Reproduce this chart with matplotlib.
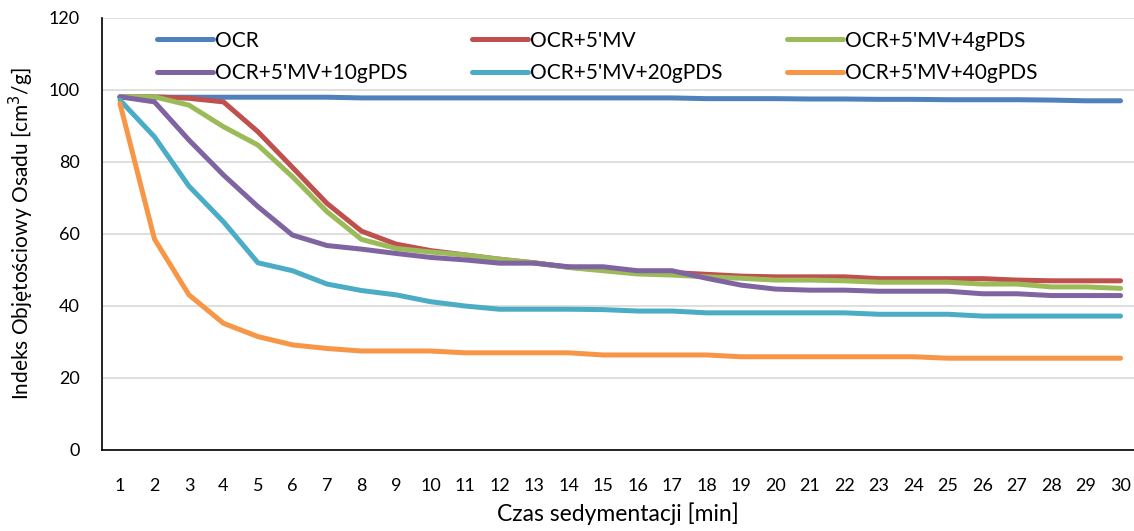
import matplotlib
matplotlib.use("Agg")
import matplotlib.pyplot as plt

plt.rcParams['font.family'] = ['Lato', 'DejaVu Sans']

time_min = list(range(1, 31))
ocr = [98.0, 98.0, 98.0, 98.0, 98.0, 98.0, 98.0, 97.8, 97.8, 97.8,
       97.8, 97.8, 97.8, 97.8, 97.8, 97.8, 97.8, 97.6, 97.6, 97.6,
       97.5, 97.5, 97.4, 97.4, 97.3, 97.3, 97.3, 97.2, 97.0, 97.0]
ocr_mv = [98.1, 98.1, 97.7, 96.7, 88.4, 78.5, 68.5, 60.8, 57.2, 55.4,
          54.2, 53.0, 52.0, 50.8, 50.0, 49.6, 49.3, 48.8, 48.3, 48.1,
          48.1, 48.1, 47.6, 47.6, 47.6, 47.6, 47.2, 47.0, 47.0, 47.0]
ocr_mv_4 = [98.1, 98.1, 95.8, 89.8, 84.7, 75.9, 66.2, 58.5, 56.0, 55.0,
            54.2, 53.0, 52.0, 50.7, 49.8, 48.9, 48.6, 48.1, 47.7, 47.2,
            47.2, 47.0, 46.6, 46.6, 46.6, 46.1, 46.1, 45.3, 45.3, 44.9]
ocr_mv_10 = [98.1, 96.7, 86.1, 76.4, 67.6, 59.7, 56.8, 55.8, 54.6, 53.5,
             52.8, 51.9, 51.9, 50.9, 50.9, 49.8, 49.8, 47.7, 45.8, 44.7,
             44.4, 44.4, 44.1, 44.1, 44.1, 43.4, 43.4, 42.9, 42.9, 42.9]
ocr_mv_20 = [97.2, 87.0, 73.3, 63.4, 52.0, 49.8, 46.1, 44.3, 43.1, 41.2,
             40.0, 39.1, 39.1, 39.1, 39.0, 38.6, 38.6, 38.1, 38.1, 38.1,
             38.1, 38.1, 37.7, 37.7, 37.7, 37.2, 37.2, 37.2, 37.2, 37.2]
ocr_mv_40 = [96.3, 58.6, 43.1, 35.2, 31.5, 29.2, 28.2, 27.5, 27.5, 27.5,
             27.0, 27.0, 27.0, 27.0, 26.4, 26.4, 26.4, 26.4, 25.9, 25.9,
             25.9, 25.9, 25.9, 25.9, 25.5, 25.5, 25.5, 25.5, 25.5, 25.5]

labels = ["OCR", "OCR+5'MV", "OCR+5'MV+4gPDS",
          "OCR+5'MV+10gPDS", "OCR+5'MV+20gPDS", "OCR+5'MV+40gPDS"]
series = [ocr, ocr_mv, ocr_mv_4, ocr_mv_10, ocr_mv_20, ocr_mv_40]
colors = ["#4F81BD", "#C0504D", "#9BBB59", "#8064A2", "#4BACC6", "#F79646"]
y_ticks = [0, 20, 40, 60, 80, 100, 120]

fig = plt.figure(figsize=(11.34, 5.31), dpi=100)
ax = fig.add_axes([102 / 1134, 1 - 450 / 531, (1134 - 102) / 1134, (450 - 18) / 531])

lines = []
for vals, lab, col in zip(series, labels, colors):
    ln, = ax.plot(time_min, vals, color=col, lw=3.6, label=lab,
                  solid_capstyle='round', solid_joinstyle='round')
    lines.append(ln)

ax.set_xlim(0.48, 30.39)
ax.set_ylim(0, 120)
ax.set_yticks(y_ticks)
ax.set_xticks(time_min)
ax.tick_params(axis='both', length=0, labelsize=13, colors='black')
ax.tick_params(axis='x', pad=20)
ax.tick_params(axis='y', pad=16)
ax.grid(axis='y', color='#D9D9D9', lw=1.2)
ax.set_axisbelow(True)
for s in ['top', 'right']:
    ax.spines[s].set_visible(False)
for s in ['left', 'bottom']:
    ax.spines[s].set_color('black')
    ax.spines[s].set_linewidth(1.2)

ax.set_xlabel("Czas sedymentacji [min]", fontsize=16.5, labelpad=6)
ax.set_ylabel("Indeks Objętościowy Osadu [cm$^3$/g]", fontsize=15, labelpad=9)

# legend order: row-wise 3 columns
order = [0, 3, 1, 4, 2, 5]
leg = ax.legend([lines[i] for i in order], [labels[i] for i in order],
                ncol=3, frameon=False, fontsize=15, handlelength=2.7,
                handletextpad=0.08, columnspacing=3.1,
                loc='upper left', bbox_to_anchor=(0.035, 1.014),
                labelspacing=0.59)

fig.savefig("out.png", dpi=100)
